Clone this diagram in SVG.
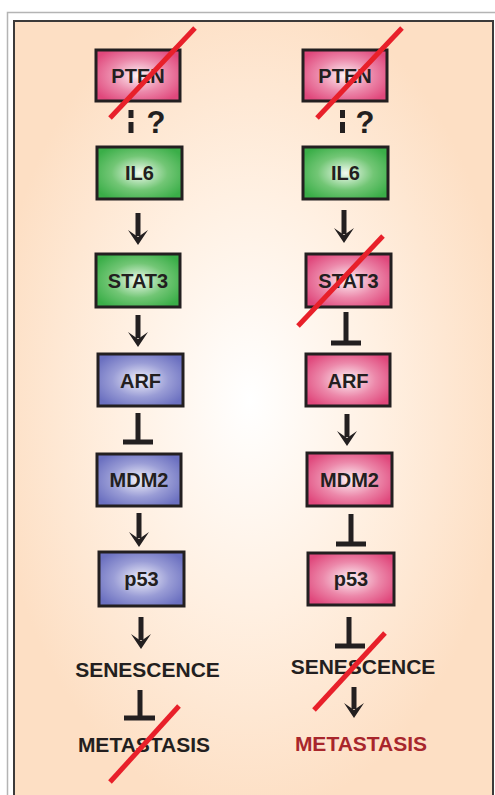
<svg xmlns="http://www.w3.org/2000/svg" width="495" height="795" viewBox="0 0 495 795">
<defs>
<radialGradient id="bg" cx="250" cy="400" r="260" gradientUnits="userSpaceOnUse" gradientTransform="translate(250 400) scale(1 1.6) translate(-250 -400)">
<stop offset="0" stop-color="#ffffff"/>
<stop offset="0.5" stop-color="#fff0e2"/>
<stop offset="1" stop-color="#fddfc4"/>
</radialGradient>
<radialGradient id="pink" cx="0.5" cy="0.5" r="0.6">
<stop offset="0" stop-color="#fdf3f6"/>
<stop offset="0.55" stop-color="#ec88aa"/>
<stop offset="1" stop-color="#e0487c"/>
</radialGradient>
<radialGradient id="green" cx="0.5" cy="0.5" r="0.6">
<stop offset="0" stop-color="#f2fbf1"/>
<stop offset="0.55" stop-color="#72c675"/>
<stop offset="1" stop-color="#3aae48"/>
</radialGradient>
<radialGradient id="blue" cx="0.5" cy="0.5" r="0.6">
<stop offset="0" stop-color="#f2f2fb"/>
<stop offset="0.55" stop-color="#9a9dd6"/>
<stop offset="1" stop-color="#6b70c0"/>
</radialGradient>
</defs>
<style>
.box{stroke:#231f20;stroke-width:3}
.lbl{font-family:"Liberation Sans",Arial,sans-serif;font-weight:bold;font-size:20px;fill:#231f20;text-anchor:middle}
.big{font-family:"Liberation Sans",Arial,sans-serif;font-weight:bold;font-size:21px;fill:#231f20;text-anchor:middle}
.q{font-family:"Liberation Sans",Arial,sans-serif;font-weight:bold;font-size:31px;fill:#231f20;text-anchor:middle}
.line{stroke:#231f20;stroke-width:5;fill:none}
.head{fill:#231f20}
.slash{stroke:#e8202a;stroke-width:5;stroke-linecap:butt}
</style>
<rect x="0" y="0" width="495" height="795" fill="#ffffff"/>
<path d="M7.5 795 V12.5 H495" fill="none" stroke="#b4b4b4" stroke-width="1.5"/>
<rect x="14" y="21" width="479" height="780" fill="url(#bg)" stroke="#3c3a3a" stroke-width="2"/>

<g id="connectors">
<path class="line" d="M131 110 V118 M131 122 V133"/>
<path class="line" d="M138 213 V236"/>
<path class="head" d="M128 230 L138 245 L148 230 L138 237 Z"/>
<path class="line" d="M138 315 V338"/>
<path class="head" d="M128 332 L138 347 L148 332 L138 339 Z"/>
<path class="line" d="M138 413 V442 M123 442 H153"/>
<path class="line" d="M139 513 V538"/>
<path class="head" d="M129 532 L139 547 L149 532 L139 539 Z"/>
<path class="line" d="M141 617 V640"/>
<path class="head" d="M131 634 L141 649 L151 634 L141 641 Z"/>
<path class="line" d="M140 690 V718 M124 718 H155"/>
<path class="line" d="M342.5 110 V118 M342.5 122 V133"/>
<path class="line" d="M344 210 V234"/>
<path class="head" d="M334 228 L344 243 L354 228 L344 235 Z"/>
<path class="line" d="M346 312 V343 M331 343 H361"/>
<path class="line" d="M347 414 V437"/>
<path class="head" d="M337 431 L347 446 L357 431 L347 438 Z"/>
<path class="line" d="M351 514 V544 M336 544 H366"/>
<path class="line" d="M349 617 V646 M335 646 H365"/>
<path class="line" d="M354 687 V709"/>
<path class="head" d="M344 703 L354 718 L364 703 L354 710 Z"/>
</g>

<text class="q" x="156" y="133">?</text>
<text class="q" x="365" y="133">?</text>

<g id="pten-l"><rect class="box" x="96" y="50" width="84" height="51" fill="url(#pink)"/><text class="lbl" x="138" y="83">PTEN</text></g>
<g id="il6-l"><rect class="box" x="97" y="147" width="85" height="52" fill="url(#green)"/><text class="lbl" x="139.5" y="180">IL6</text></g>
<g id="stat3-l"><rect class="box" x="96" y="254" width="84" height="53" fill="url(#green)"/><text class="lbl" x="138" y="288">STAT3</text></g>
<g id="arf-l"><rect class="box" x="98" y="354" width="85" height="52" fill="url(#blue)"/><text class="lbl" x="140.5" y="388">ARF</text></g>
<g id="mdm2-l"><rect class="box" x="97" y="454" width="84" height="52" fill="url(#blue)"/><text class="lbl" x="139" y="487">MDM2</text></g>
<g id="p53-l"><rect class="box" x="99" y="552" width="85" height="54" fill="url(#blue)"/><text class="lbl" x="141.5" y="586">p53</text></g>
<g id="sen-l"><text class="big" x="147.5" y="677">SENESCENCE</text></g>
<g id="met-l"><text class="big" x="144" y="752">METASTASIS</text></g>

<g id="pten-r"><rect class="box" x="303" y="50" width="84" height="51" fill="url(#pink)"/><text class="lbl" x="345" y="83">PTEN</text></g>
<g id="il6-r"><rect class="box" x="303" y="147" width="85" height="52" fill="url(#green)"/><text class="lbl" x="345.5" y="180">IL6</text></g>
<g id="stat3-r"><rect class="box" x="306" y="254" width="85" height="53" fill="url(#pink)"/><text class="lbl" x="348.5" y="288">STAT3</text></g>
<g id="arf-r"><rect class="box" x="306" y="354" width="84" height="52" fill="url(#pink)"/><text class="lbl" x="348" y="388">ARF</text></g>
<g id="mdm2-r"><rect class="box" x="307" y="453" width="85" height="53" fill="url(#pink)"/><text class="lbl" x="349.5" y="487">MDM2</text></g>
<g id="p53-r"><rect class="box" x="308" y="553" width="86" height="52" fill="url(#pink)"/><text class="lbl" x="351" y="586">p53</text></g>
<g id="sen-r"><text class="big" x="363" y="674">SENESCENCE</text></g>
<g id="met-r"><text class="big" x="361" y="751" style="fill:#a8262c">METASTASIS</text></g>

<g id="slashes">
<line class="slash" x1="110" y1="118" x2="195" y2="28"/>
<line class="slash" x1="317" y1="118" x2="402" y2="28"/>
<line class="slash" x1="298" y1="326" x2="383" y2="236"/>
<line class="slash" x1="314" y1="710" x2="385" y2="633"/>
<line class="slash" x1="110" y1="782" x2="179" y2="706"/>
</g>
</svg>
